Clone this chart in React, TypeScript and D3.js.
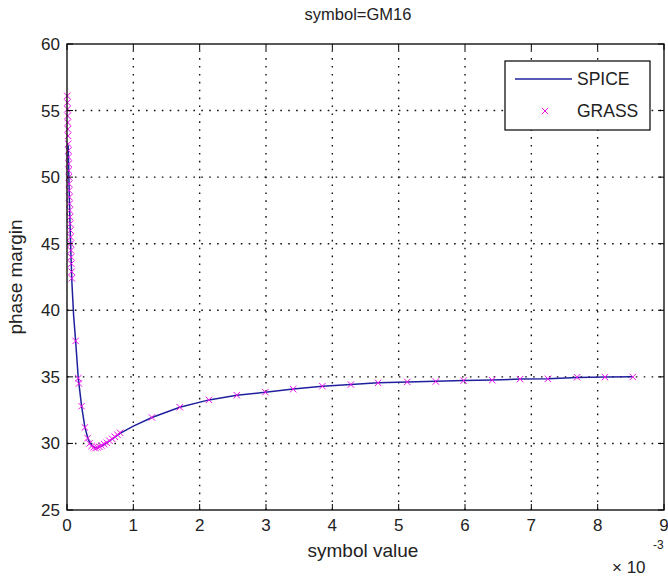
import React from "react";
import * as d3 from "d3";

// Axis ranges and tick labels (x is in units of 1e-3)
const xTicks = [0, 1, 2, 3, 4, 5, 6, 7, 8, 9];
const yTicks = [25, 30, 35, 40, 45, 50, 55, 60];

// SPICE sweep: symbol value (x1e-3) vs phase margin
const spiceX = [0.018, 0.03, 0.045, 0.06, 0.075, 0.1, 0.13, 0.17, 0.22, 0.27, 0.32, 0.38, 0.45, 0.52, 0.6, 0.7, 0.8, 1.0, 1.28, 1.7, 2.14, 2.56, 2.99, 3.41, 3.85, 4.28, 4.69, 5.13, 5.56, 5.98, 6.41, 6.83, 7.25, 7.69, 8.11, 8.53];
const spiceY = [52.4, 49.6, 46.6, 44.1, 42.0, 39.6, 37.7, 34.9, 32.8, 31.2, 30.3, 29.8, 29.65, 29.8, 30.05, 30.4, 30.75, 31.3, 31.95, 32.72, 33.27, 33.62, 33.85, 34.08, 34.3, 34.42, 34.55, 34.62, 34.67, 34.72, 34.76, 34.83, 34.86, 34.96, 34.98, 35.0];

// GRASS samples (dense near the origin and around the minimum)
const grassX = [0.004, 0.006, 0.008, 0.01, 0.012, 0.014, 0.016, 0.019, 0.021, 0.023, 0.025, 0.027, 0.029, 0.031, 0.033, 0.036, 0.039, 0.042, 0.045, 0.048, 0.051, 0.054, 0.057, 0.06, 0.063, 0.066, 0.07, 0.073, 0.13, 0.17, 0.18, 0.22, 0.27, 0.31, 0.34, 0.37, 0.4, 0.43, 0.46, 0.49, 0.52, 0.56, 0.6, 0.64, 0.68, 0.72, 0.76, 0.8, 1.28, 1.7, 2.14, 2.56, 2.99, 3.41, 3.85, 4.28, 4.69, 5.13, 5.56, 5.98, 6.41, 6.83, 7.25, 7.69, 8.11, 8.53];
const grassY = [56.1, 55.6, 55.1, 54.6, 54.1, 53.6, 53.1, 52.5, 52.0, 51.5, 51.0, 50.5, 50.0, 49.5, 49.0, 48.5, 48.0, 47.5, 47.0, 46.5, 46.0, 45.5, 45.0, 44.5, 44.0, 43.5, 42.9, 42.4, 37.7, 34.9, 34.5, 32.8, 31.2, 30.4, 30.0, 29.8, 29.7, 29.65, 29.7, 29.75, 29.85, 29.95, 30.05, 30.2, 30.35, 30.5, 30.65, 30.8, 31.95, 32.72, 33.27, 33.62, 33.85, 34.08, 34.3, 34.42, 34.55, 34.62, 34.65, 34.72, 34.75, 34.83, 34.85, 34.97, 34.98, 34.99];

const W = 668;
const H = 579;
const plot = { left: 67, right: 664, top: 44, bottom: 510 };
const font = "'Liberation Sans', Arial, sans-serif";
const textColor = "#222";
const lineColor = "#20209e";
const markColor = "#f010f0";

export default function App() {
  const x = d3.scaleLinear().domain([0, 9]).range([plot.left, plot.right]);
  const y = d3.scaleLinear().domain([25, 60]).range([plot.bottom, plot.top]);

  const line = d3
    .line<number>()
    .x((_, i) => x(spiceX[i]))
    .y((d) => y(d));

  const cross = (cx: number, cy: number, s: number) =>
    `M${cx - s},${cy - s}L${cx + s},${cy + s}M${cx - s},${cy + s}L${cx + s},${cy - s}`;

  const tickLen = 6;
  const grid = "1.6,6.3";

  return (
    <svg
      width={W}
      height={H}
      style={{ position: "absolute", left: 0, top: 0, background: "#fff" }}
    >
      <rect x={0} y={0} width={W} height={H} fill="#fff" />

      {/* dotted grid */}
      {xTicks.slice(1, -1).map((t) => (
        <line
          key={"gx" + t}
          x1={x(t)}
          x2={x(t)}
          y1={plot.bottom}
          y2={plot.top}
          stroke="#111"
          strokeWidth={1.4}
          strokeDasharray={grid}
        />
      ))}
      {yTicks.slice(1, -1).map((t) => (
        <line
          key={"gy" + t}
          x1={plot.left}
          x2={plot.right}
          y1={y(t)}
          y2={y(t)}
          stroke="#111"
          strokeWidth={1.4}
          strokeDasharray={grid}
        />
      ))}

      {/* SPICE curve */}
      <path d={line(spiceY) || ""} fill="none" stroke={lineColor} strokeWidth={1.5} />

      {/* GRASS markers */}
      <path
        d={grassX.map((gx, i) => cross(x(gx), y(grassY[i]), 3.2)).join("")}
        fill="none"
        stroke={markColor}
        strokeWidth={1}
      />

      {/* axes box and ticks */}
      <rect
        x={plot.left}
        y={plot.top}
        width={plot.right - plot.left}
        height={plot.bottom - plot.top}
        fill="none"
        stroke="#000"
        strokeWidth={1.3}
      />
      {xTicks.map((t) => (
        <g key={"tx" + t}>
          <line x1={x(t)} x2={x(t)} y1={plot.bottom} y2={plot.bottom - tickLen} stroke="#000" />
          <line x1={x(t)} x2={x(t)} y1={plot.top} y2={plot.top + tickLen} stroke="#000" />
          <text
            x={x(t)}
            y={plot.bottom + 21}
            textAnchor="middle"
            fontFamily={font}
            fontSize={17}
            fill={textColor}
          >
            {t}
          </text>
        </g>
      ))}
      {yTicks.map((t) => (
        <g key={"ty" + t}>
          <line x1={plot.left} x2={plot.left + tickLen} y1={y(t)} y2={y(t)} stroke="#000" />
          <line x1={plot.right} x2={plot.right - tickLen} y1={y(t)} y2={y(t)} stroke="#000" />
          <text
            x={plot.left - 7}
            y={y(t) + 6}
            textAnchor="end"
            fontFamily={font}
            fontSize={17}
            fill={textColor}
          >
            {t}
          </text>
        </g>
      ))}

      {/* titles */}
      <text
        x={358}
        y={20}
        textAnchor="middle"
        fontFamily={font}
        fontSize={16.5}
        fill={textColor}
      >
        symbol=GM16
      </text>
      <text
        x={363}
        y={557}
        textAnchor="middle"
        fontFamily={font}
        fontSize={19}
        fill={textColor}
      >
        symbol value
      </text>
      <text
        transform={`translate(22,${(plot.top + plot.bottom) / 2}) rotate(-90)`}
        textAnchor="middle"
        fontFamily={font}
        fontSize={19}
        fill={textColor}
      >
        phase margin
      </text>
      <text x={612} y={573} fontFamily={font} fontSize={17} fill={textColor}>
        × 10
      </text>
      <text x={653} y={549} fontFamily={font} fontSize={12} fill={textColor}>
        -3
      </text>

      {/* legend */}
      <rect x={505} y={61} width={145} height={69} fill="#fff" stroke="#000" strokeWidth={1.2} />
      <line x1={515} x2={572} y1={79} y2={79} stroke={lineColor} strokeWidth={1.5} />
      <text x={577} y={85} fontFamily={font} fontSize={17.5} fill={textColor}>
        SPICE
      </text>
      <path d={cross(545, 111, 3.2)} fill="none" stroke={markColor} strokeWidth={1} />
      <text x={577} y={117} fontFamily={font} fontSize={17.5} fill={textColor}>
        GRASS
      </text>
    </svg>
  );
}
